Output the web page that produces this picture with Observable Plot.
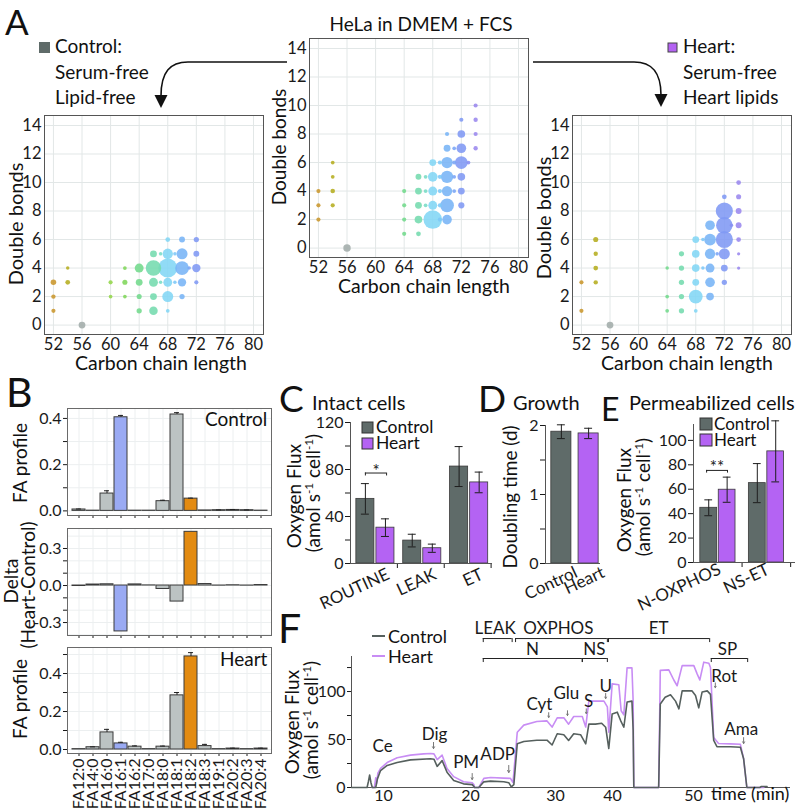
<!DOCTYPE html>
<html>
<head>
<meta charset="utf-8">
<script src="https://cdn.jsdelivr.net/npm/d3@7"></script>
<script src="https://cdn.jsdelivr.net/npm/@observablehq/plot@0.6"></script>
<style>
html,body{margin:0;padding:0;background:#fff;}
#fig{position:relative;width:796px;height:812px;overflow:hidden;background:#fff;}
</style>
</head>
<body>
<div id="fig"></div>
<script>
// ================= DATA =================
// Panel A: [carbon chain length, double bonds, relative abundance %]
const carbonKeys   = [52, 54, 56, 60, 62, 64, 66, 67, 68, 69, 70, 71, 72, 73, 74];
const carbonColors = ["#c9962c","#b5ad1f","#a2acaa","#93d64a","#80d65a","#72d98c","#74dbae","#78dcc6","#82d6f5","#7cc7f7","#77b4f6","#7aa5f6","#7f98f4","#8990f1","#9a88ee"];
const xTicksA = [52, 56, 60, 64, 68, 72, 76, 80];
const yTicksA = [0, 2, 4, 6, 8, 10, 12, 14];

const fcsLipids = [
  [52,2,0.5],[52,3,0.5],[52,4,0.5],
  [54,3,0.5],[54,4,0.6],[54,5,0.4],[54,6,0.4],
  [56,0,1.6],
  [64,1,0.5],[64,2,0.5],[64,3,0.5],[64,4,0.5],
  [66,1,0.65],[66,2,1.7],[66,3,1.35],[66,4,1.35],[66,5,1.0],
  [67,3,0.4],[67,4,0.4],[67,5,0.4],
  [68,2,10],[68,3,2.3],[68,4,2.3],[68,5,2.7],[68,6,1.35],
  [69,2,0.5],[69,3,0.5],[69,4,0.5],[69,5,0.5],[69,6,0.5],
  [70,2,2.7],[70,3,5.5],[70,4,3.1],[70,5,4.4],[70,6,3.7],[70,7,1.35],[70,8,0.5],
  [71,4,0.4],[71,5,0.4],[71,6,0.45],[71,7,0.4],
  [72,3,1.1],[72,4,1.35],[72,5,1.7],[72,6,4.7],[72,7,2.7],[72,8,1.7],[72,9,0.5],
  [73,6,0.4],
  [74,7,0.55],[74,8,0.5],[74,9,0.55],[74,10,0.5]
];
const controlLipids = [
  [52,1,0.5],[52,2,0.55],[52,3,0.9],
  [54,3,0.65],[54,4,0.35],
  [56,0,1.35],
  [60,2,0.4],[60,3,0.5],
  [62,2,0.4],[62,3,0.75],[62,4,0.4],
  [64,1,0.8],[64,2,0.75],[64,3,1.35],[64,4,2.3],
  [66,1,2.1],[66,2,1.35],[66,3,2.3],[66,4,6.9],[66,5,1.35],
  [67,3,0.35],[67,5,0.35],
  [68,1,0.4],[68,2,3.5],[68,3,2.3],[68,4,10.4],[68,5,3.1],[68,6,0.65],
  [69,3,0.35],[69,5,0.35],
  [70,2,0.8],[70,3,2.0],[70,4,5.5],[70,5,3.5],[70,6,1.0],
  [71,4,0.35],
  [72,3,0.5],[72,4,2.0],[72,5,1.0],[72,6,0.8]
];
const heartLipids = [
  [52,1,0.5],[52,3,0.5],
  [54,3,0.55],[54,4,0.65],[54,5,0.55],[54,6,0.75],
  [56,0,1.35],
  [64,1,0.4],[64,2,0.4],[64,4,0.35],
  [66,1,0.8],[66,2,0.8],[66,3,0.8],[66,4,0.8],[66,5,0.8],
  [68,1,0.4],[68,2,5.5],[68,3,1.35],[68,4,1.7],[68,5,1.7],[68,6,1.35],
  [69,4,0.35],[69,6,0.35],
  [70,2,1.7],[70,3,2.7],[70,4,2.3],[70,5,3.1],[70,6,4.0],[70,7,2.7],
  [71,5,0.35],
  [72,3,0.8],[72,4,1.35],[72,5,3.5],[72,6,8.5],[72,7,7.9],[72,8,8.5],[72,9,0.65],
  [73,7,0.35],
  [74,4,0.3],[74,5,0.3],[74,6,0.65],[74,7,1.0],[74,8,1.0],[74,9,0.75],[74,10,0.65]
];

// Panel B: fatty-acid profile
const faCats       = ["FA12:0","FA14:0","FA16:0","FA16:1","FA16:2","FA17:0","FA18:0","FA18:1","FA18:2","FA18:3","FA19:1","FA20:2","FA20:3","FA20:4"];
const faControl    = [0.006, 0.001, 0.075, 0.405, 0.001, 0.001, 0.042, 0.417, 0.053, 0.002, 0.003, 0.004, 0.003, 0.001];
const faControlErr = [0.002, 0, 0.012, 0.008, 0, 0, 0.004, 0.008, 0.002, 0, 0.001, 0.002, 0.001, 0];
const faDelta      = [-0.004, 0.008, 0.01, -0.372, 0.009, 0.001, -0.028, -0.13, 0.435, 0.012, -0.001, 0.002, -0.001, 0.004];
const faHeart      = [0.002, 0.012, 0.09, 0.032, 0.015, 0.002, 0.015, 0.285, 0.49, 0.018, 0.002, 0.005, 0.002, 0.005];
const faHeartErr   = [0, 0.002, 0.016, 0.006, 0.004, 0, 0.003, 0.015, 0.02, 0.009, 0, 0.002, 0, 0.002];

// Panel C: intact cells
const intactStates     = ["ROUTINE", "LEAK", "ET"];
const intactControl    = [55, 19.5, 82.5];
const intactControlErr = [13, 5.4, 17];
const intactHeart      = [30.5, 13, 69];
const intactHeartErr   = [7.5, 3.5, 8.8];

// Panel D: growth
const growthGroups = ["Control", "Heart"];
const doublingTime = [1.91, 1.885];
const doublingErr  = [0.1, 0.075];

// Panel E: permeabilized cells
const permStates     = ["N-OXPHOS", "NS-ET"];
const permControl    = [44.8, 65];
const permControlErr = [6.5, 16];
const permHeart      = [59.6, 91];
const permHeartErr   = [10.3, 25];

// Panel F: respirometry traces [time (min), O2 flux]
const fTimeTicks = [10, 20, 30, 40, 50];
const fControl = [
  [6.3,0],[8.1,0],[8.25,6],[8.4,13],[8.55,5],[8.7,0],[9.1,0],[9.3,9],[9.66,17.7],[10.42,23],[11.57,26],[13.1,28.8],
  [15.4,30],[15.8,29.5],[16.17,22],[16.74,28],[17.3,16],[18.07,7.3],[19.2,3.8],[20.2,3],[20.4,1],[20.47,0],[20.98,0],
  [21.57,5.9],[22.35,6.6],[23.92,6],[24.5,5],[24.8,0.7],[25.1,3],[25.5,45.5],[26.27,48],[27.8,49.3],[29.0,49.3],
  [29.6,44.3],[30.3,56],[31.46,55],[32.3,49],[33.2,56],[34.4,55],[35.3,45.5],[35.85,66],[37.0,66],[38.1,67],
  [38.8,62.8],[39.35,40.6],[39.94,76.7],[40.58,78.5],[40.99,70],[41.4,62.8],[41.8,89],[42.4,90],[42.55,60],[42.63,0],
  [45.7,0],[45.9,87],[46.5,94],[47.16,96.6],[47.78,90],[48.2,82],[48.6,100.7],[49.8,100.7],[50.25,95.8],[50.65,83],
  [51.07,99.6],[51.7,100.7],[52.1,97],[52.5,49],[52.9,42.5],[53.74,42.5],[54.57,42.5],[55.8,42],[56.2,30],[56.6,0],
  [58.2,0],[58.4,1],[59.1,1]
];
const fHeart = [
  [8.7,0],[8.95,0],[9.1,10],[9.2,4],[9.35,15],[9.66,19.9],[10.42,26],[11.57,31],[13.1,33.7],[14.6,35],[15.4,35.4],
  [15.8,35],[16.17,29],[16.74,33.7],[17.3,19.9],[18.07,11.3],[19.2,6],[20.2,5],[20.4,3],[20.47,0],[20.98,0],
  [21.57,9.5],[22.35,10.4],[23.92,9.8],[24.7,9.5],[25.0,5],[25.5,57.6],[26.27,65],[27.8,68.7],[29.0,69.4],[29.6,63],
  [30.3,72.6],[31.46,72.6],[32.3,66],[33.2,74],[34.7,74],[35.3,63],[35.85,90],[38.5,90],[39.1,84],[39.35,57.6],
  [39.94,108],[40.78,107],[41.07,80],[41.4,75.7],[41.8,124.6],[42.4,124.6],[42.55,90],[42.63,0],[45.7,0],[45.9,122],
  [46.95,122.6],[47.57,112],[47.98,106],[48.6,127],[50.04,127],[50.45,118.4],[50.78,112],[51.27,130.6],[51.9,129.5],
  [52.1,125],[52.5,52],[53.1,45.8],[54.57,45.5],[55.8,45],[56.2,30],[56.6,0],[58.7,0]
];
const fBrackets = [
  {label: "LEAK",   t1: 21.5, t2: 24.9, tl: 22.9, row: 0},
  {label: "OXPHOS", t1: 25.3, t2: 39.1, tl: 30.5, row: 0},
  {label: "ET",     t1: 39.3, t2: 52.0, tl: 45.7, row: 0},
  {label: "N",      t1: 21.5, t2: 34.7, tl: 27.3, row: 1},
  {label: "NS",     t1: 34.7, t2: 39.1, tl: 36.8, row: 1},
  {label: "SP",     t1: 52.2, t2: 56.7, tl: 54.2, row: 1}
];
const fEvents = [
  {label: "Ce",  t: 9.9,   v: 37.5},
  {label: "Dig", t: 15.86, v: 50,    at: 15.75, a1: 47,  a2: 40.5},
  {label: "PM",  t: 19.5,  v: 19.8,  at: 20.2,  a1: 14.6, a2: 8.3},
  {label: "ADP", t: 23.2,  v: 29,    at: 24.5,  a1: 23,  a2: 15.6},
  {label: "Cyt", t: 28.1,  v: 81,    at: 29.2,  a1: 78,  a2: 73},
  {label: "Glu", t: 31.9,  v: 91.7,  at: 32.1,  a1: 80,  a2: 75},
  {label: "S",   t: 35.8,  v: 84.4,  at: 35.4,  a1: 82,  a2: 77},
  {label: "U",   t: 38.8,  v: 100,   at: 38.8,  a1: 98,  a2: 92.7},
  {label: "Rot", t: 53.8,  v: 110.4, at: 52.7,  a1: 109, a2: 104},
  {label: "Ama", t: 55.9,  v: 54.2,  at: 56.2,  a1: 52,  a2: 45.8}
];

// ================= RENDER =================
const FONT = "Lato, 'Open Sans', 'DejaVu Sans', sans-serif";
const CTRL = "#5f6b69", HEART = "#b463f3";
const fig = document.getElementById("fig");
function put(el, left, top) {
  el.style.position = "absolute";
  el.style.left = left + "px";
  el.style.top = top + "px";
  el.style.background = "transparent";
  el.style.overflow = "visible";
  el.style.maxWidth = "none";
  fig.appendChild(el);
}
function sty(size) {
  return {fontSize: size + "px", fontFamily: FONT, color: "#1a1a1a", background: "transparent", overflow: "visible"};
}

// ---- Panel A ----
function bubblePlot(data, fl, ft) {
  const mL = 34, mR = 4, mT = 4, mB = 28, S = 219;
  const p = Plot.plot({
    width: mL + S + mR, height: mT + S + mB,
    marginLeft: mL, marginRight: mR, marginTop: mT, marginBottom: mB,
    style: sty(16.5),
    x: {domain: [50.75, 81.4], ticks: xTicksA, tickSize: 0, tickPadding: 4, label: null},
    y: {domain: [-0.66, 14.7], ticks: yTicksA, tickSize: 0, tickPadding: 3, label: null},
    r: {type: "sqrt", domain: [0, 10], range: [0, 9.3]},
    color: {type: "ordinal", domain: carbonKeys, range: carbonColors},
    marks: [
      Plot.ruleX(xTicksA, {stroke: "#e2e7e7"}),
      Plot.ruleY(yTicksA, {stroke: "#e2e7e7"}),
      Plot.dot(data, {x: d => d[0], y: d => d[1], r: d => d[2], fill: d => d[0], fillOpacity: 0.88}),
      Plot.frame({stroke: "#555"})
    ]
  });
  put(p, fl - mL, ft - mT);
}
bubblePlot(fcsLipids, 309, 38);
bubblePlot(controlLipids, 44, 115);
bubblePlot(heartLipids, 572, 115);

// ---- Panel B ----
const faFill = c => c === "FA16:1" ? "#9aaaf3" : c === "FA18:2" ? "#e38b12" : "#bcc3c3";
const fmtEven = d => Math.round(d * 10) % 2 === 0 ? d.toFixed(1) : "";
const fmtThree = d => Math.round(d * 10) % 3 === 0 ? d.toFixed(1) : "";
function faPanel(vals, errs, yDom, yTicks, yFmt, gridY, ft, fh, mB, showX) {
  const mL = 62, mR = 3, mT = 3, W = 204;
  const rows = faCats.map((c, i) => ({cat: c, v: vals[i], e: errs ? errs[i] : 0}));
  const er = rows.filter(d => d.e > 0);
  const marks = [
    Plot.ruleX(faCats, {x: d => d, stroke: "#eceff0"}),
    Plot.ruleY(gridY, {stroke: "#eceff0"}),
    Plot.barY(rows, {x: "cat", y: "v", fill: d => faFill(d.cat), stroke: "#3a3a3a", strokeWidth: 1})
  ];
  if (er.length) {
    marks.push(Plot.ruleX(er, {x: "cat", y1: "v", y2: d => d.v + d.e, stroke: "#222"}));
    marks.push(Plot.tickY(er, {x: "cat", y: d => d.v + d.e, stroke: "#222", insetLeft: 4, insetRight: 4}));
  }
  marks.push(Plot.frame({stroke: "#6a6a6a"}));
  const p = Plot.plot({
    width: mL + W + mR, height: mT + fh + mB,
    marginLeft: mL, marginRight: mR, marginTop: mT, marginBottom: mB,
    style: sty(16),
    color: {type: "identity"},
    x: {type: "band", domain: faCats, padding: 0.1, tickSize: 3, tickPadding: 2,
        tickRotate: showX ? -90 : 0, tickFormat: showX ? (d => d) : (() => ""), label: null},
    y: {domain: yDom, ticks: yTicks, tickFormat: yFmt, tickSize: 4, tickPadding: 2, label: null},
    marks
  });
  put(p, 67 - mL, ft - mT);
}
faPanel(faControl, faControlErr, [-0.02, 0.443], [0, 0.1, 0.2, 0.3, 0.4], fmtEven, [0, 0.1, 0.2, 0.3, 0.4], 408, 107, 6, false);
faPanel(faDelta, null, [-0.405, 0.462], [-0.3, -0.2, -0.1, 0, 0.1, 0.2, 0.3], fmtThree, [-0.4, -0.3, -0.2, -0.1, 0, 0.1, 0.2, 0.3, 0.4], 528, 107, 6, false);
faPanel(faHeart, faHeartErr, [-0.021, 0.537], [0, 0.1, 0.2, 0.3, 0.4, 0.5], fmtEven, [0, 0.1, 0.2, 0.3, 0.4, 0.5], 647, 106, 70, true);

// ---- Panels C, D, E ----
function sig(s, tickLen, textOff) {
  return [
    Plot.ruleY([s], {y: "y", x1: "x1", x2: "x2", stroke: "#222"}),
    Plot.ruleX([s], {x: "x1", y1: d => d.y - tickLen, y2: "y", stroke: "#222"}),
    Plot.ruleX([s], {x: "x2", y1: d => d.y - tickLen, y2: "y", stroke: "#222"}),
    Plot.text([s], {x: d => (d.x1 + d.x2) / 2, y: d => d.y + textOff, text: "label", fontSize: 17})
  ];
}
function barPanel(o) {
  const [fl, ft, fw, fh] = o.frame;
  const mT = 6, mR = o.mR ?? 4, mL = o.mL, mB = o.mB;
  const cx = d => (d.x1 + d.x2) / 2;
  const marks = [
    Plot.rect(o.rows, {x1: "x1", x2: "x2", y1: 0, y2: "v", fill: d => d.fill, stroke: "#3a3a3a", strokeWidth: 0.8}),
    Plot.ruleX(o.rows, {x: cx, y1: d => d.v - d.e, y2: d => d.v + d.e, stroke: "#1e1e1e"}),
    Plot.ruleY(o.rows, {y: d => d.v + d.e, x1: d => cx(d) - o.capW, x2: d => cx(d) + o.capW, stroke: "#1e1e1e"}),
    Plot.ruleY(o.rows, {y: d => d.v - d.e, x1: d => cx(d) - o.capW, x2: d => cx(d) + o.capW, stroke: "#1e1e1e"}),
    Plot.ruleX([o.xDom[0]], {y1: o.yDom[0], y2: o.yDom[1], stroke: "#555"}),
    Plot.ruleY([o.yDom[0]], {x1: o.xDom[0], x2: o.xDom[1], stroke: "#555"}),
    Plot.text(o.labels, {x: (d, i) => o.labelX[i], y: o.yDom[0], text: d => d, rotate: -25,
      textAnchor: "end", dx: o.ldx, dy: o.ldy, fontSize: 17}),
    ...(o.extra || [])
  ];
  const p = Plot.plot({
    width: mL + fw + mR, height: mT + fh + mB,
    marginLeft: mL, marginRight: mR, marginTop: mT, marginBottom: mB,
    style: sty(16),
    color: {type: "identity"},
    x: o.xTicks.length ? {domain: o.xDom, ticks: o.xTicks, tickFormat: () => "", tickSize: 5, label: null}
                       : {domain: o.xDom, axis: null},
    y: {domain: o.yDom, ticks: o.yTicks, tickFormat: o.yFmt, tickSize: 5, tickPadding: 2, label: null},
    marks
  });
  put(p, fl - mL, ft - mT);
}

barPanel({
  rows: intactStates.flatMap((s, i) => [
    {x1: i + 0.125, x2: i + 0.51,  v: intactControl[i], e: intactControlErr[i], fill: CTRL},
    {x1: i + 0.553, x2: i + 0.938, v: intactHeart[i],   e: intactHeartErr[i],   fill: HEART}]),
  labels: intactStates, labelX: intactStates.map((s, i) => i + 0.53),
  xDom: [0, 3.03], xTicks: [1, 2, 3], yDom: [0, 120], yTicks: [0, 20, 40, 60, 80, 100, 120],
  yFmt: d => d % 40 === 0 ? String(d) : "",
  frame: [350, 422, 142, 141], mL: 40, mB: 60, ldx: 13, ldy: 10, capW: 0.085,
  extra: sig({x1: 0.318, x2: 0.77, y: 77, label: "*"}, 2.5, 1.5)
});

barPanel({
  rows: growthGroups.map((g, i) => ({x1: i * 1.03 + 0.22, x2: i * 1.03 + 0.98, v: doublingTime[i], e: doublingErr[i], fill: i === 0 ? CTRL : HEART})),
  labels: growthGroups, labelX: [0.6, 1.63],
  xDom: [0, 2.08], xTicks: [], yDom: [0, 2], yTicks: [0, 0.5, 1, 1.5, 2],
  yFmt: d => Number.isInteger(d) ? String(d) : "",
  frame: [545, 425, 55, 138], mL: 30, mB: 60, ldx: 15, ldy: 8, capW: 0.15
});

barPanel({
  rows: permStates.flatMap((s, i) => [
    {x1: i + 0.14, x2: i + 0.487, v: permControl[i], e: permControlErr[i], fill: CTRL},
    {x1: i + 0.52, x2: i + 0.865, v: permHeart[i],   e: permHeartErr[i],   fill: HEART}]),
  labels: permStates, labelX: [0.5, 1.5],
  xDom: [0, 2.1], xTicks: [1, 2], yDom: [0, 113], yTicks: [0, 20, 40, 60, 80, 100],
  yFmt: d => String(d),
  frame: [693, 424, 102, 138], mL: 40, mR: 1, mB: 60, ldx: 2, ldy: 6, capW: 0.08,
  extra: sig({x1: 0.27, x2: 0.70, y: 75.4, label: "**"}, 2.2, 2.6)
});

// ---- Panel F ----
(function () {
  const mL = 45, mR = 5, mT = 52, mB = 22, FW = 439, FH = 131;
  // the original time axis is drawn piecewise (30-40 min compressed)
  const tMap = d3.scaleLinear().domain([6.3, 10, 20, 30, 40, 50, 62]).range([0, 32, 119, 204, 261, 342, 439]);
  const rowY = [155.2, 134.4], rowText = [160.4, 138.5];
  const p = Plot.plot({
    width: mL + FW + mR, height: mT + FH + mB,
    marginLeft: mL, marginRight: mR, marginTop: mT, marginBottom: mB,
    style: sty(16),
    x: {type: "linear", transform: t => tMap(t), domain: [0, 439], axis: null},
    y: {domain: [0, 136.5], ticks: [0, 25, 50, 75, 100, 125], tickFormat: d => d % 50 === 0 ? String(d) : "",
        tickSize: 4, tickPadding: 2, label: null},
    marks: [
      Plot.ruleY([0], {x1: 6.3, x2: 62, stroke: "#555"}),
      Plot.ruleX([6.3], {y1: 0, y2: 136.5, stroke: "#555"}),
      Plot.text(fTimeTicks, {x: d => d, y: 0, text: d => String(d), lineAnchor: "top", dy: 2, fontSize: 16}),
      Plot.line(fHeart, {x: d => d[0], y: d => d[1], stroke: "#c88df4", strokeWidth: 1.6}),
      Plot.line(fControl, {x: d => d[0], y: d => d[1], stroke: "#56605e", strokeWidth: 1.6}),
      Plot.ruleY(fBrackets, {y: d => rowY[d.row], x1: "t1", x2: "t2", stroke: "#222"}),
      Plot.ruleX(fBrackets, {x: "t1", y1: d => rowY[d.row] - 4.2, y2: d => rowY[d.row], stroke: "#222"}),
      Plot.ruleX(fBrackets, {x: "t2", y1: d => rowY[d.row] - 4.2, y2: d => rowY[d.row], stroke: "#222"}),
      Plot.text(fBrackets, {x: "tl", y: d => rowText[d.row], text: "label", fontSize: 17, lineAnchor: "bottom"}),
      Plot.text(fEvents, {x: "t", y: "v", text: "label", fontSize: 17, lineAnchor: "bottom"}),
      Plot.arrow(fEvents.filter(d => d.at !== undefined), {x1: "at", y1: "a1", x2: "at", y2: "a2", stroke: "#777", strokeWidth: 1, headLength: 4})
    ]
  });
  put(p, 351 - mL, 656 - mT);
})();

// ================= TEXT OVERLAY =================
const ov = d3.select(fig).append("svg").attr("width", 796).attr("height", 812)
  .style("position", "absolute").style("left", "0px").style("top", "0px").style("pointer-events", "none")
  .attr("font-family", FONT).attr("fill", "#111");
function T(x, y, s, size, anchor) {
  return ov.append("text").attr("x", x).attr("y", y).attr("font-size", size).attr("text-anchor", anchor || "start").text(s);
}
function RT(x, y, size, parts) {
  const t = ov.append("text").attr("transform", `translate(${x},${y}) rotate(-90)`).attr("text-anchor", "middle").attr("font-size", size);
  let shifted = false;
  for (const p of parts) {
    if (typeof p === "string") {
      const ts = t.append("tspan").text(p);
      if (shifted) { ts.attr("dy", size * 0.38); shifted = false; }
    } else {
      t.append("tspan").attr("dy", -size * 0.38).attr("font-size", size * 0.62).text(p.sup);
      shifted = true;
    }
  }
  return t;
}
const fluxLabel = ["(amol s", {sup: "-1"}, " cell", {sup: "-1"}, ")"];

// Panel A
T(5, 35, "A", 35);
T(421, 31, "HeLa in DMEM + FCS", 19, "middle");
ov.append("rect").attr("x", 39).attr("y", 42).attr("width", 11).attr("height", 11).attr("fill", CTRL);
T(55, 53, "Control:", 19); T(55, 79, "Serum-free", 19); T(55, 104, "Lipid-free", 19);
ov.append("rect").attr("x", 668).attr("y", 43).attr("width", 9).attr("height", 9).attr("fill", HEART).attr("stroke", "#444");
T(683, 53, "Heart:", 19); T(683, 79, "Serum-free", 19); T(683, 104, "Heart lipids", 19);
ov.append("path").attr("d", "M287,62 H188 C170,62 161,72 161,96").attr("fill", "none").attr("stroke", "#111").attr("stroke-width", 1.6);
ov.append("path").attr("d", "M154.5,95 L167.5,95 L161,108 Z").attr("fill", "#111");
ov.append("path").attr("d", "M533,62 H634 C652,62 661,72 661,95").attr("fill", "none").attr("stroke", "#111").attr("stroke-width", 1.6);
ov.append("path").attr("d", "M654.5,94 L667.5,94 L661,107 Z").attr("fill", "#111");
RT(286, 147, 19, ["Double bonds"]);
RT(23, 224, 20, ["Double bonds"]);
RT(551, 218, 20, ["Double bonds"]);
T(424, 293, "Carbon chain length", 19.5, "middle");
T(161, 370, "Carbon chain length", 19.5, "middle");
T(687, 370, "Carbon chain length", 19.5, "middle");

// Panel B
T(6, 407, "B", 41);
T(205, 426, "Control", 19);
T(220, 666, "Heart", 19);
RT(27, 463, 19, ["FA profile"]);
RT(27, 699, 19, ["FA profile"]);
RT(18, 581, 19, ["Delta"]);
RT(35, 585, 19, ["(Heart-Control)"]);

// Panel C
T(279, 412, "C", 37);
T(312, 410, "Intact cells", 20);
ov.append("rect").attr("x", 362).attr("y", 422).attr("width", 11).attr("height", 11).attr("fill", CTRL).attr("stroke", "#333");
T(376, 433, "Control", 17.5);
ov.append("rect").attr("x", 362).attr("y", 438).attr("width", 11).attr("height", 11).attr("fill", HEART).attr("stroke", "#333");
T(376, 449, "Heart", 17.5);
RT(301, 496, 19, ["Oxygen Flux"]);
RT(320, 493, 19, fluxLabel);

// Panel D
T(478, 412, "D", 37);
T(513, 410, "Growth", 20);
RT(517, 497, 19, ["Doubling time (d)"]);

// Panel E
T(601, 421, "E", 32);
T(629, 410, "Permeabilized cells", 20);
ov.append("rect").attr("x", 700).attr("y", 418).attr("width", 12).attr("height", 12).attr("fill", CTRL).attr("stroke", "#333");
T(714, 430, "Control", 17);
ov.append("rect").attr("x", 700).attr("y", 434).attr("width", 12).attr("height", 12).attr("fill", HEART).attr("stroke", "#333");
T(714, 446, "Heart", 17);
RT(631, 500, 19, ["Oxygen Flux"]);
RT(650, 497, 19, fluxLabel);

// Panel F
T(278, 643, "F", 41);
ov.append("line").attr("x1", 372).attr("x2", 385).attr("y1", 636).attr("y2", 636).attr("stroke", "#56605e").attr("stroke-width", 2);
T(388, 643, "Control", 18);
ov.append("line").attr("x1", 372).attr("x2", 385).attr("y1", 656).attr("y2", 656).attr("stroke", "#c88df4").attr("stroke-width", 2);
T(388, 663, "Heart", 18);
RT(299, 722, 19, ["Oxygen Flux"]);
RT(318, 720, 19, fluxLabel);
T(711, 800, "time (min)", 18);
</script>
</body>
</html>
